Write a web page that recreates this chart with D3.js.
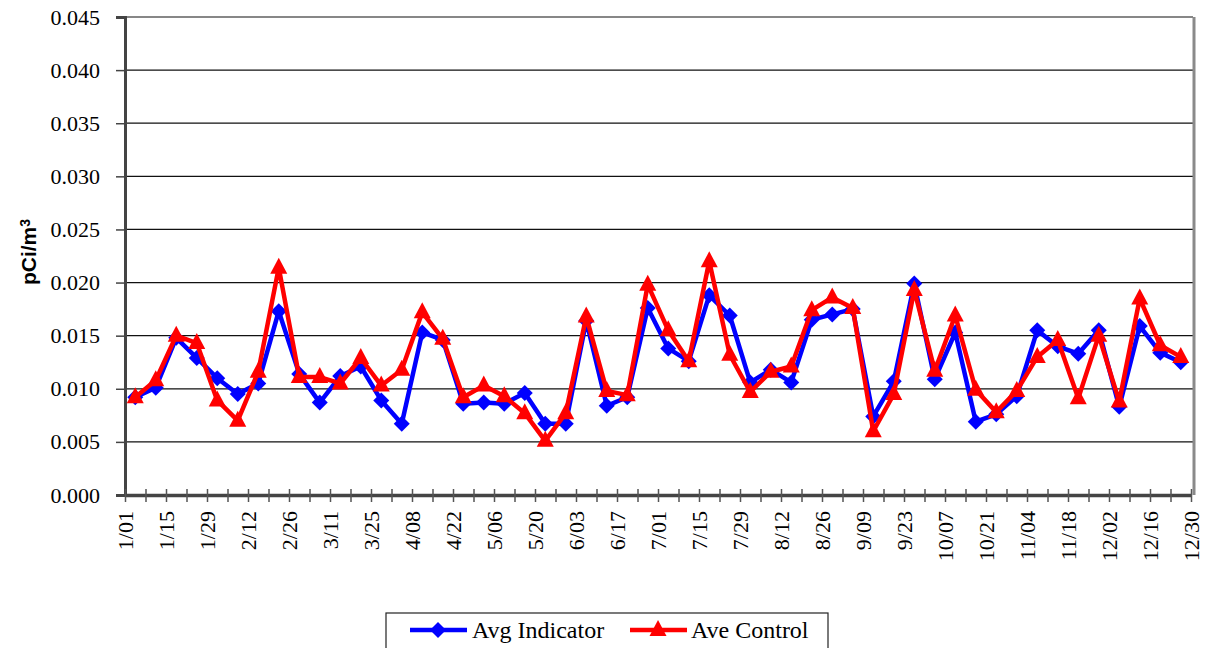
<!DOCTYPE html>
<html>
<head>
<meta charset="utf-8">
<script src="https://cdn.jsdelivr.net/npm/d3@7"></script>
<style>
  body { margin: 0; background: #fff; }
  svg { display: block; }
  .serif { font-family: "Liberation Serif", "DejaVu Serif", "Noto Serif", "Times New Roman", serif; }
  .sans { font-family: "Liberation Sans", Arial, Helvetica, sans-serif; }
</style>
</head>
<body>
<div id="chart"></div>
<script>
// weekly averages, 52 weeks
const weeks = d3.range(1, 53);

const avgIndicator = [
  0.0092, 0.0101, 0.0148, 0.0129, 0.0110, 0.0095, 0.0105, 0.0173, 0.0114, 0.0087,
  0.0112, 0.0121, 0.0089, 0.0067, 0.0153, 0.0146, 0.0086, 0.0087, 0.0086, 0.0096,
  0.0067, 0.0067, 0.0164, 0.0084, 0.0092, 0.0176, 0.0138, 0.0126, 0.0188, 0.0169,
  0.0106, 0.0118, 0.0106, 0.0165, 0.0170, 0.0175, 0.0074, 0.0107, 0.0199, 0.0109,
  0.0153, 0.0069, 0.0076, 0.0093, 0.0155, 0.0140, 0.0133, 0.0155, 0.0083, 0.0159,
  0.0134, 0.0125
];

const aveControl = [
  0.0092, 0.0108, 0.0150, 0.0143, 0.0089, 0.0070, 0.0116, 0.0214, 0.0111, 0.0111,
  0.0105, 0.0129, 0.0103, 0.0118, 0.0172, 0.0147, 0.0092, 0.0103, 0.0093, 0.0077,
  0.0051, 0.0077, 0.0168, 0.0098, 0.0094, 0.0198, 0.0155, 0.0126, 0.0220, 0.0132,
  0.0097, 0.0116, 0.0121, 0.0174, 0.0186, 0.0176, 0.0060, 0.0095, 0.0193, 0.0117,
  0.0169, 0.0099, 0.0078, 0.0098, 0.0130, 0.0146, 0.0091, 0.0150, 0.0088, 0.0185,
  0.0141, 0.0130
];

// labels sit on every second week boundary
const dateLabels = [
  "1/01", "1/15", "1/29", "2/12", "2/26", "3/11", "3/25", "4/08", "4/22",
  "5/06", "5/20", "6/03", "6/17", "7/01", "7/15", "7/29", "8/12", "8/26",
  "9/09", "9/23", "10/07", "10/21", "11/04", "11/18", "12/02", "12/16", "12/30"
];

const yTicks = [0, 0.005, 0.010, 0.015, 0.020, 0.025, 0.030, 0.035, 0.040, 0.045];

const width = 1206, height = 648;
const plot = { left: 125, right: 1191, top: 17, bottom: 495 };

const svg = d3.select("#chart")
  .append("svg")
  .attr("width", width)
  .attr("height", height);

// x: week boundaries 0..52
const x = d3.scaleLinear()
  .domain([0, weeks.length])
  .range([plot.left, plot.right]);

const y = d3.scaleLinear()
  .domain([0, 0.045])
  .range([plot.bottom, plot.top]);

// gridlines
svg.append("g")
  .selectAll("line")
  .data(yTicks.slice(1))
  .join("line")
  .attr("x1", plot.left)
  .attr("x2", plot.right + 2)
  .attr("y1", d => y(d))
  .attr("y2", d => y(d))
  .attr("stroke", "#111")
  .attr("stroke-width", 1.2);

// right border of plot area
svg.append("line")
  .attr("x1", plot.right + 3).attr("x2", plot.right + 3)
  .attr("y1", plot.top).attr("y2", plot.bottom)
  .attr("stroke", "#8a8a8a")
  .attr("stroke-width", 3);

// Y Axis
const yAxis = svg.append("g")
  .attr("transform", `translate(${plot.left},0)`)
  .call(d3.axisLeft(y).tickValues(yTicks).tickFormat(d3.format(".3f")).tickSize(9).tickPadding(16))
  .attr("font-family", null)
  .attr("font-size", null);

yAxis.select(".domain").attr("stroke", "#444").attr("stroke-width", 3);
yAxis.selectAll(".tick line").attr("stroke", "#444").attr("stroke-width", 1.5);
yAxis.selectAll("text")
  .attr("class", "serif")
  .style("font-size", "22px")
  .attr("fill", "#000");

// X Axis - a cross tick on every week boundary, label every second one
const xAxis = svg.append("g")
  .attr("transform", `translate(0,${plot.bottom})`)
  .call(d3.axisBottom(x)
    .tickValues(d3.range(0, weeks.length + 1))
    .tickFormat(d => d % 2 === 0 ? dateLabels[d / 2] : "")
    .tickSizeOuter(0))
  .attr("font-family", null)
  .attr("font-size", null);

xAxis.select(".domain").attr("stroke", "#444").attr("stroke-width", 3.5);
xAxis.selectAll(".tick line")
  .attr("y1", -6)
  .attr("y2", 7)
  .attr("stroke", "#555")
  .attr("stroke-width", 1.5);
xAxis.selectAll("text")
  .attr("class", "serif")
  .style("font-size", "22px")
  .attr("fill", "#000")
  .attr("text-anchor", "end")
  .attr("transform", "rotate(-90)")
  .attr("x", -16)
  .attr("y", 0)
  .attr("dy", "0.35em");

// Y Axis Label
const yLabel = svg.append("text")
  .attr("class", "sans")
  .attr("transform", "translate(36,252) rotate(-90)")
  .attr("text-anchor", "middle")
  .style("font-weight", "bold")
  .style("font-size", "21px")
  .attr("fill", "#000");
yLabel.append("tspan").text("pCi/m");
yLabel.append("tspan").attr("dy", "-0.45em").style("font-size", "14px").text("3");

const diamond = "M0,-8L8,0L0,8L-8,0Z";
const triangle = "M0,-10L8.5,6L-8.5,6Z";

const series = [
  { name: "Avg Indicator", values: avgIndicator, color: "#0000ff", marker: diamond },
  { name: "Ave Control", values: aveControl, color: "#ff0000", marker: triangle }
];

const line = d3.line()
  .x((d, i) => x(i + 0.5))
  .y(d => y(d));

series.forEach(s => {
  svg.append("path")
    .datum(s.values)
    .attr("fill", "none")
    .attr("stroke", s.color)
    .attr("stroke-width", 4.5)
    .attr("stroke-linejoin", "round")
    .attr("d", line);

  svg.append("g")
    .selectAll("path")
    .data(s.values)
    .join("path")
    .attr("transform", (d, i) => `translate(${x(i + 0.5)},${y(d)})`)
    .attr("d", s.marker)
    .attr("fill", s.color);
});

// Legend
const legend = svg.append("g");
legend.append("rect")
  .attr("x", 386)
  .attr("y", 613)
  .attr("width", 442)
  .attr("height", 60)
  .attr("fill", "#fff")
  .attr("stroke", "#222")
  .attr("stroke-width", 1.2);

const legendPos = [{ lx: 410, tx: 472 }, { lx: 630, tx: 691 }];
series.forEach((s, i) => {
  const p = legendPos[i];
  legend.append("line")
    .attr("x1", p.lx).attr("x2", p.lx + 57)
    .attr("y1", 630).attr("y2", 630)
    .attr("stroke", s.color)
    .attr("stroke-width", 4.5);
  legend.append("path")
    .attr("transform", `translate(${p.lx + 28},630)`)
    .attr("d", s.marker)
    .attr("fill", s.color);
  legend.append("text")
    .attr("class", "serif")
    .attr("x", p.tx)
    .attr("y", 638)
    .style("font-size", "24px")
    .attr("fill", "#000")
    .text(s.name);
});
</script>
</body>
</html>
